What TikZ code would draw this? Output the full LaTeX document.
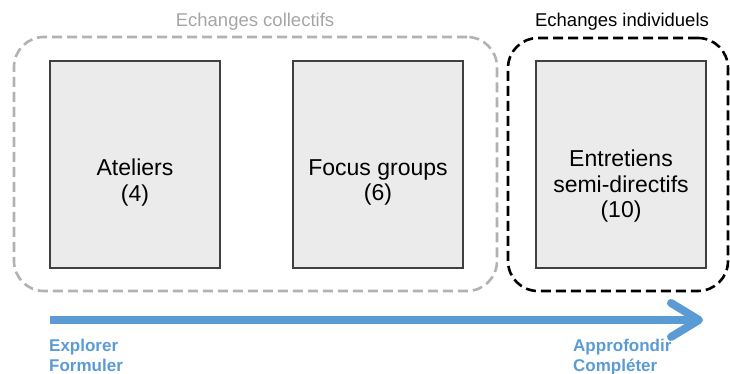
\documentclass[tikz,border=0pt]{standalone}
\usepackage{fontspec}
\setmainfont{Liberation Sans}
\usetikzlibrary{arrows.meta}
\definecolor{fleche}{RGB}{91,155,213}
\definecolor{gristrait}{RGB}{178,178,178}
\definecolor{gristexte}{RGB}{165,165,165}
\definecolor{fond}{RGB}{235,235,235}

\begin{document}
\begin{tikzpicture}[x=1pt,y=-1pt,
  methode/.style={draw=black!75,line width=1.3pt,fill=fond,minimum width=170pt,minimum height=207pt,inner sep=0pt},
  nom/.style={align=center,font=\fontsize{23}{25.5}\selectfont,inner sep=0pt},
  groupe/.style={line width=2.6pt,dash pattern=on 10pt off 5pt,rounded corners=30pt,inner sep=0pt},
  titre/.style={font=\fontsize{18.5}{21}\selectfont},
  etape/.style={text=fleche,font=\fontsize{17}{20}\selectfont\bfseries,align=left,anchor=north west,inner sep=0pt}]
\useasboundingbox (0,0) rectangle (730,374);
% groupes
\node[groupe,draw=gristrait,minimum width=483pt,minimum height=254pt] (collectif) at (255.5,164) {};
\node[groupe,draw=black,minimum width=220pt,minimum height=253pt] (individuel) at (618,164.5) {};
\node[titre,text=gristexte] (tcollectif) at (255,22) {Echanges collectifs};
\node[titre] (tindividuel) at (622,22) {Echanges individuels};
% methodes
\node[methode] (ateliers) at (135,164.5) {};
\node[methode] (focus) at (378,164.5) {};
\node[methode] (entretiens) at (621,164.5) {};
\node[nom] (tateliers) at ([yshift=-18pt]ateliers.center) {Ateliers\\(4)};
\node[nom] (tfocus) at ([yshift=-18pt]focus.center) {Focus groups\\(6)};
\node[nom] (tentretiens) at ([yshift=-22pt]entretiens.center) {Entretiens\\semi-directifs\\(10)};
% fleche
\coordinate (debut) at (50,320);
\coordinate (fin) at (703,320);
\draw[fleche,line width=8pt,-{Straight Barb[length=28pt,width=34pt,round]}] (debut) -- (fin);
\node[etape] (explorer) at (49,339) {Explorer\\Formuler};
\node[etape] (approfondir) at (573,339) {Approfondir\\Compléter};
\end{tikzpicture}
\end{document}
